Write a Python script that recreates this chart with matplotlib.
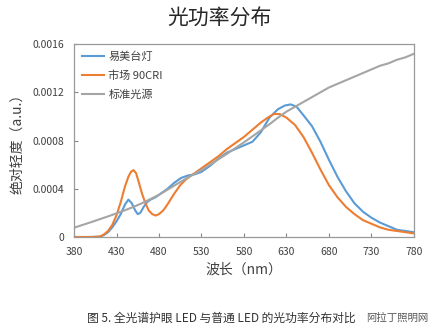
import matplotlib.pyplot as plt

plt.rcParams['font.family'] = ['Noto Sans CJK SC', 'DejaVu Sans']

# 易美台灯
wl_a = [380, 400, 410, 415, 420, 425, 430, 435, 440, 444, 448, 452, 455, 458,
        462, 466, 470, 476, 482, 490, 498, 506, 514, 522, 530, 540, 550, 560,
        570, 580, 590, 600, 610, 620, 628, 635, 642, 650, 660, 670, 680, 690,
        700, 710, 720, 730, 740, 750, 760, 770, 780]
val_a = [0, 0, 0.000003, 0.000015, 0.00004, 0.00008, 0.00013, 0.00019, 0.00027,
         0.00031, 0.00028, 0.00022, 0.00019, 0.0002, 0.00025, 0.00029, 0.00031,
         0.00033, 0.00036, 0.0004, 0.00045, 0.00049, 0.00051, 0.00052, 0.00054,
         0.00059, 0.00065, 0.0007, 0.00073, 0.00076, 0.00079, 0.00087, 0.00099,
         0.00106, 0.00109, 0.0011, 0.00108, 0.00101, 0.00092, 0.00079, 0.00064,
         0.0005, 0.00038, 0.00028, 0.00021, 0.00016, 0.00012, 0.00009, 0.00006,
         0.00005, 0.00004]

# 市场 90CRI
wl_b = [380, 400, 410, 415, 420, 425, 430, 435, 440, 444, 447, 450, 453, 456,
        460, 464, 468, 472, 476, 480, 485, 490, 497, 505, 512, 520, 530, 540,
        550, 560, 570, 580, 590, 600, 608, 615, 622, 630, 640, 650, 660, 670,
        680, 690, 700, 710, 720, 730, 740, 750, 760, 770, 780]
val_b = [0, 0, 0.000003, 0.00002, 0.00005, 0.0001, 0.00018, 0.00029, 0.00042,
         0.0005, 0.00054, 0.000555, 0.00053, 0.00046, 0.00036, 0.00028, 0.00022,
         0.00019, 0.000178, 0.00019, 0.00022, 0.00027, 0.00035, 0.00043, 0.00048,
         0.00052, 0.00057, 0.00062, 0.00067, 0.00073, 0.00078, 0.00083, 0.00089,
         0.00095, 0.00099, 0.00102, 0.00102, 0.00099, 0.00093, 0.00083, 0.0007,
         0.00056, 0.00043, 0.00033, 0.00025, 0.00019, 0.00014, 0.00011, 0.00008,
         0.00006, 0.00005, 0.00004, 0.00003]

# 标准光源
wl_c = list(range(380, 781, 10))
val_c = [0.000077, 0.0001, 0.000123, 0.000147, 0.000171, 0.000196, 0.000222,
         0.00025, 0.00028, 0.000315, 0.00035, 0.000392, 0.000435, 0.000477,
         0.000517, 0.000555, 0.0006, 0.000645, 0.00069, 0.000738, 0.000785,
         0.000835, 0.000885, 0.000935, 0.00099, 0.00104, 0.00108, 0.00112,
         0.00116, 0.0012, 0.00124, 0.00127, 0.0013, 0.00133, 0.00136, 0.00139,
         0.00142, 0.00144, 0.00147, 0.00149, 0.00152]

x_ticks = list(range(380, 781, 50))
y_ticks = [0, 0.0004, 0.0008, 0.0012, 0.0016]
y_tick_labels = ['0', '0.0004', '0.0008', '0.0012', '0.0016']

fig = plt.figure(figsize=(4.38, 3.34), dpi=100)
ax = fig.add_axes([0.169, 0.2904, 0.776, 0.5776])

ax.plot(wl_a, val_a, color='#5B9BD5', lw=1.5, label='易美台灯')
ax.plot(wl_b, val_b, color='#ED7D31', lw=1.5, label='市场 90CRI')
ax.plot(wl_c, val_c, color='#A5A5A5', lw=1.5, label='标准光源')

ax.set_xlim(380, 780)
ax.set_ylim(0, 0.0016)
ax.set_xticks(x_ticks)
ax.set_yticks(y_ticks)
ax.set_yticklabels(y_tick_labels)
ax.tick_params(direction='in', length=3, color='#888888', labelsize=7.5,
               labelcolor='#404040', pad=7)

for s in ax.spines.values():
    s.set_color('#999999')
    s.set_linewidth(0.9)

ax.set_xlabel('波长（nm）', fontsize=10, color='#404040', labelpad=4)
ax.set_ylabel('绝对轻度（a.u.）', fontsize=10, color='#404040', labelpad=6)

leg = ax.legend(loc='upper left', frameon=False, fontsize=8,
                handlelength=2.0, handletextpad=0.4, labelspacing=0.75,
                borderaxespad=0.3)
for t in leg.get_texts():
    t.set_color('#404040')

fig.text(0.5, 0.945, '光功率分布', ha='center', va='center', fontsize=15,
         color='#262626')
fig.text(0.199, 0.048, '图 5. 全光谱护眼 LED 与普通 LED 的光功率分布对比',
         ha='left', va='center', fontsize=8.5, color='#333333')
fig.text(0.835, 0.05, '阿拉丁照明网', ha='left', va='center', fontsize=7.5,
         color='#555555')

fig.savefig('out.png', dpi=100)
